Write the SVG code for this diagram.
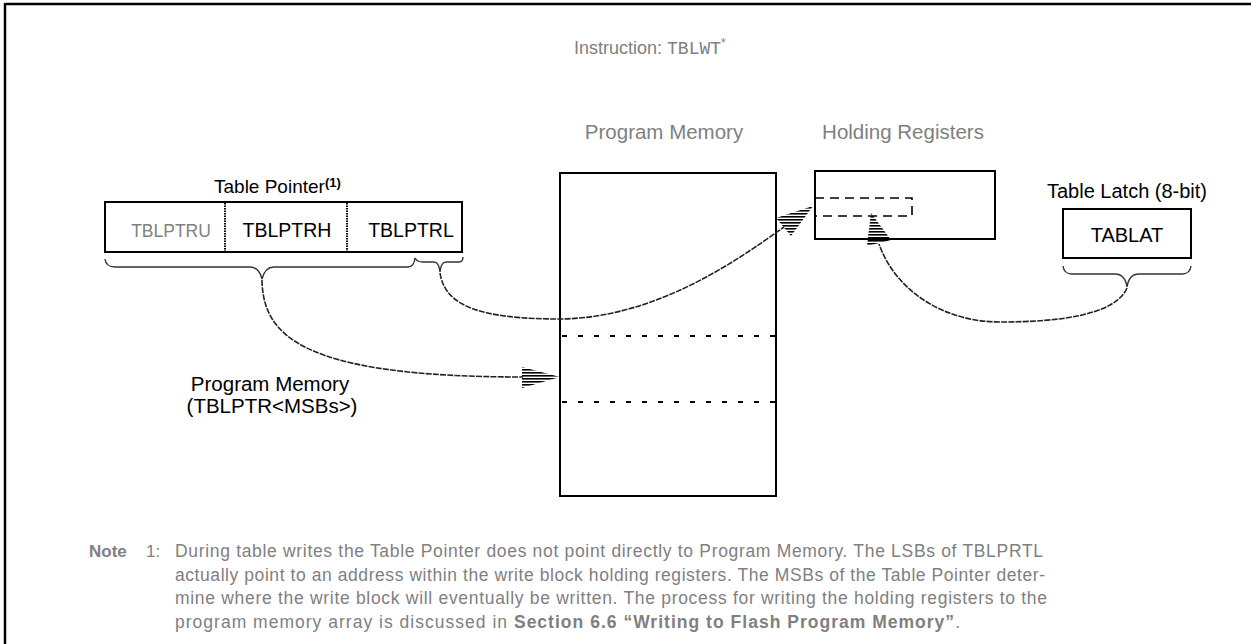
<svg xmlns="http://www.w3.org/2000/svg" width="1251" height="644" viewBox="0 0 1251 644">
<style>
.t{font-family:"Liberation Sans",Arial,sans-serif;fill:#000}
.g{font-family:"Liberation Sans",Arial,sans-serif;fill:#808080}
.box{fill:#fff;stroke:#000;stroke-width:2}
.dash{fill:none;stroke:#000;stroke-width:2;stroke-dasharray:5 11}
.brace{fill:none;stroke:#333;stroke-width:1.4}
.conn{fill:none;stroke:#222;stroke-width:1.6;stroke-dasharray:6 1.2}
.ah{fill:url(#hatch);stroke:none}
</style>
<defs>
<pattern id="hatch" width="4" height="3" patternUnits="userSpaceOnUse">
<rect x="0" y="0" width="4" height="1.6" fill="#000"/>
</pattern>
</defs>
<rect x="0" y="0" width="1251" height="644" fill="#fff"/>
<g id="frame">
<line x1="5" y1="4" x2="1251" y2="4" stroke="#000" stroke-width="2.5"/>
<line x1="5" y1="3" x2="5" y2="644" stroke="#000" stroke-width="2.5"/>
</g>
<g id="title">
<text class="g" x="574" y="54" font-size="18">Instruction: <tspan font-family="'Liberation Mono',monospace">TBLWT</tspan><tspan font-size="12" dy="-7">*</tspan></text>
</g>
<g id="table-pointer">
<text class="t" x="214" y="193" font-size="19">Table Pointer<tspan font-weight="bold" font-size="13" dy="-6">(1)</tspan></text>
<rect class="box" x="105" y="202" width="357" height="50"/>
<line x1="225" y1="203" x2="225" y2="251" stroke="#000" stroke-width="2" stroke-dasharray="1.5 1"/>
<line x1="347" y1="203" x2="347" y2="251" stroke="#000" stroke-width="2" stroke-dasharray="1.5 1"/>
<text class="g" x="171" y="237" font-size="17.5" text-anchor="middle" fill="#666">TBLPTRU</text>
<text class="t" x="287" y="237" font-size="19.5" text-anchor="middle">TBLPTRH</text>
<text class="t" x="411" y="237" font-size="19.5" text-anchor="middle">TBLPTRL</text>
<path class="brace" d="M105,259 Q106,267 115,267 L250,267 Q259,267 262,279 Q265,267 274,267 L408,267 Q414,267 415,258"/>
<path class="brace" d="M415,258 Q417,262 423,262 L434,262 Q439,262 440,272 Q441,262 446,262 L459,262 Q463,262 463,257"/>
</g>
<g id="program-memory">
<text class="g" x="664" y="139" font-size="20.5" text-anchor="middle">Program Memory</text>
<rect class="box" x="560" y="173" width="216" height="323"/>
<line class="dash" x1="562" y1="336" x2="775" y2="336"/>
<line class="dash" x1="562" y1="402" x2="775" y2="402"/>
</g>
<g id="holding-registers">
<text class="g" x="903" y="139" font-size="20.5" text-anchor="middle">Holding Registers</text>
<rect class="box" x="815" y="171" width="180" height="68"/>
<rect x="815" y="198" width="97" height="18" fill="none" stroke="#000" stroke-width="1.6" stroke-dasharray="9 6"/>
</g>
<g id="table-latch">
<text class="t" x="1127" y="198" font-size="20" text-anchor="middle">Table Latch (8-bit)</text>
<rect class="box" x="1063" y="209" width="128" height="49"/>
<text class="t" x="1127" y="242" font-size="20" text-anchor="middle">TABLAT</text>
<path class="brace" d="M1063,266 Q1064,274 1072,274 L1115,274 Q1125,274 1127,287 Q1129,274 1139,274 L1182,274 Q1190,274 1191,266"/>
</g>
<g id="msb-label">
<text class="t" x="270" y="391" font-size="20.5" text-anchor="middle">Program Memory</text>
<text class="t" x="272" y="413" font-size="20.5" text-anchor="middle">(TBLPTR&lt;MSBs&gt;)</text>
</g>
<g id="connectors">
<path class="conn" d="M262,280 C263,335 300,377 523,377"/>
<polygon class="ah" points="560,377 522,367 522,388"/>
<path class="conn" d="M440,273 C445,306 480,319 560,319 C655,318 735,262 784,227"/>
<polygon class="ah" points="813,206 776,218 791,236"/>
<path class="conn" d="M1127,288 C1115,315 1060,322 1000,322 C945,322 896,292 879,244"/>
<polygon class="ah" points="871,213 867,246 891,240"/>
</g>
<g id="note">
<text class="g" x="89" y="557" font-size="17" font-weight="bold">Note</text>
<text class="g" x="146" y="557" font-size="17">1:</text>
<text class="g" x="175" y="557" font-size="17.5" textLength="868" lengthAdjust="spacing">During table writes the Table Pointer does not point directly to Program Memory. The LSBs of TBLPRTL</text>
<text class="g" x="175" y="580.5" font-size="17.5" textLength="870" lengthAdjust="spacing">actually point to an address within the write block holding registers. The MSBs of the Table Pointer deter-</text>
<text class="g" x="175" y="604" font-size="17.5" textLength="872" lengthAdjust="spacing">mine where the write block will eventually be written. The process for writing the holding registers to the</text>
<text class="g" x="175" y="627.5" font-size="17.5" textLength="785" lengthAdjust="spacing">program memory array is discussed in <tspan font-weight="bold">Section 6.6 “Writing to Flash Program Memory”</tspan>.</text>
</g>
</svg>
